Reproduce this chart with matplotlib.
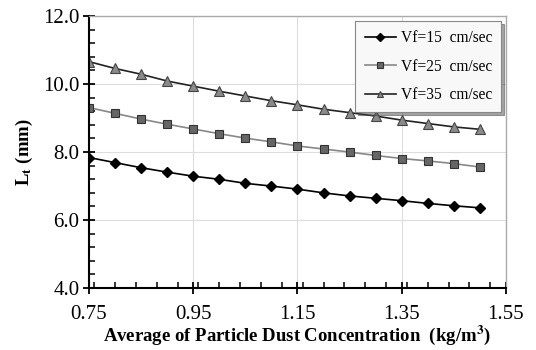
import numpy as np
import matplotlib
matplotlib.use("Agg")
import matplotlib.pyplot as plt
from matplotlib.ticker import MultipleLocator

# data
conc = [0.75, 0.80, 0.85, 0.90, 0.95, 1.00, 1.05, 1.10,
        1.15, 1.20, 1.25, 1.30, 1.35, 1.40, 1.45, 1.50]
vf15 = [7.84, 7.69, 7.54, 7.41, 7.29, 7.20, 7.08, 7.00,
        6.91, 6.80, 6.71, 6.64, 6.57, 6.49, 6.42, 6.36]
vf25 = [9.31, 9.14, 8.97, 8.82, 8.68, 8.54, 8.41, 8.30,
        8.18, 8.09, 8.00, 7.90, 7.81, 7.74, 7.66, 7.56]
vf35 = [10.66, 10.46, 10.29, 10.09, 9.94, 9.79, 9.65, 9.51,
        9.39, 9.26, 9.16, 9.06, 8.94, 8.84, 8.74, 8.67]
labels = ["Vf=15  cm/sec", "Vf=25  cm/sec", "Vf=35  cm/sec"]
xticks = [0.75, 0.95, 1.15, 1.35, 1.55]
yticks = [4.0, 6.0, 8.0, 10.0, 12.0]

plt.rcParams['font.family'] = ['Liberation Serif', 'DejaVu Serif']
plt.rcParams['mathtext.fontset'] = 'stix'

fig = plt.figure(figsize=(5.36, 3.5), dpi=100)
ax = fig.add_axes([0.166, 0.177, 0.778, 0.777])

ax.plot(conc, vf15, color='black', lw=1.2, marker='D', ms=5,
        mfc='black', mec='black', label=labels[0])
ax.plot(conc, vf25, color='#888888', lw=1.2, marker='s', ms=6,
        mfc='#666666', mec='#333333', mew=0.8, label=labels[1])
ax.plot(conc, vf35, color='#222222', lw=1.2, marker='^', ms=6.5,
        mfc='#8a8a8a', mec='#444444', mew=0.8, label=labels[2])

ax.set_xlim(0.75, 1.55)
ax.set_ylim(4.0, 12.0)
ax.xaxis.set_minor_locator(MultipleLocator(0.04))
ax.yaxis.set_minor_locator(MultipleLocator(0.4))
ax.set_xticks(xticks)
ax.set_xticklabels([f"{v:.2f}" for v in xticks])
ax.set_yticks(yticks)
ax.set_yticklabels([f"{v:.1f}" for v in yticks])

ax.grid(True, which='major', color='#dddddd', lw=0.8)
ax.set_axisbelow(True)

ax.tick_params(which='major', direction='inout', length=8, width=1.3,
               labelsize=15)
ax.tick_params(axis='x', which='major', pad=8)
ax.tick_params(axis='y', which='major', pad=3)
ax.tick_params(which='minor', direction='in', length=4, width=1.1)

for s in ['left', 'bottom']:
    ax.spines[s].set_color('black')
    ax.spines[s].set_linewidth(1.5)
for s in ['top', 'right']:
    ax.spines[s].set_color('#aaaaaa')
    ax.spines[s].set_linewidth(1.0)

ax.set_xlabel(r"Average of Particle Dust Concentration  (kg/m$^\mathbf{3}$)",
              fontsize=13.5, fontweight='bold', labelpad=0)
ax.set_ylabel(r"L$_\mathbf{t}$ (mm)", fontsize=13.5, fontweight='bold',
              labelpad=6)

leg = ax.legend(loc='upper right', fontsize=11.2, frameon=True,
                fancybox=False, shadow=True, borderaxespad=0.3,
                handlelength=2.0, handletextpad=0.3, labelspacing=0.8,
                borderpad=0.6, markerscale=0.75)
leg.get_frame().set_edgecolor('#888888')
leg.get_frame().set_facecolor('#f8f8f8')
leg.get_frame().set_linewidth(0.8)

fig.savefig("out.png", dpi=100)
